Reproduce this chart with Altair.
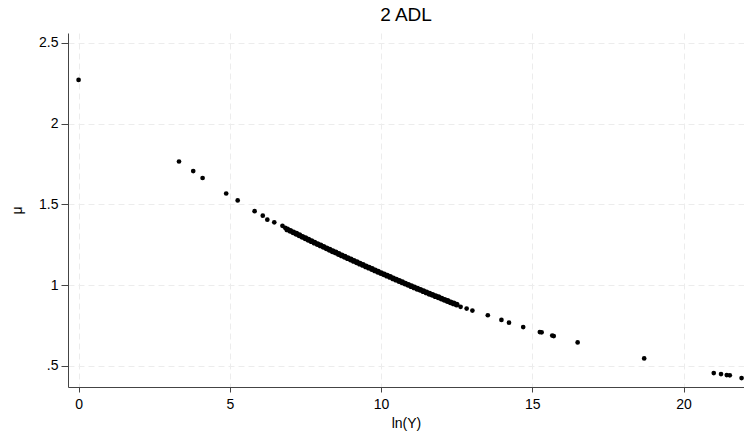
import altair as alt
import pandas as pd

# Sparse points
sparse_x = [0.0, 3.32, 3.79, 4.10, 4.88, 5.26, 5.82, 6.09, 6.24, 6.47, 6.74, 6.83,
            12.63, 12.83, 13.02, 13.53, 13.98, 14.23, 14.70, 15.25, 15.31, 15.66, 15.71,
            16.50, 18.70, 21.00, 21.24, 21.43, 21.53, 21.92]
sparse_y = [2.270, 1.765, 1.706, 1.663, 1.567, 1.524, 1.458, 1.430, 1.405, 1.389, 1.367, 1.355,
            0.866, 0.855, 0.843, 0.814, 0.785, 0.768, 0.741, 0.710, 0.708, 0.688, 0.685,
            0.646, 0.547, 0.456, 0.450, 0.444, 0.442, 0.425]

# Dense band
dense_x = [6.9, 7.0, 7.1, 7.2, 7.3, 7.4, 7.5, 7.6, 7.7, 7.8, 7.9,
           8.0, 8.1, 8.2, 8.3, 8.4, 8.5, 8.6, 8.7, 8.8, 8.9,
           9.0, 9.1, 9.2, 9.3, 9.4, 9.5, 9.6, 9.7, 9.8, 9.9,
           10.0, 10.1, 10.2, 10.3, 10.4, 10.5, 10.6, 10.7, 10.8, 10.9,
           11.0, 11.1, 11.2, 11.3, 11.4, 11.5, 11.6, 11.7, 11.8, 11.9,
           12.0, 12.1, 12.2, 12.3, 12.4, 12.5]
dense_y = [1.345, 1.336, 1.327, 1.318, 1.309, 1.299, 1.290, 1.281, 1.272, 1.263, 1.254,
           1.246, 1.237, 1.228, 1.219, 1.210, 1.202, 1.193, 1.184, 1.176, 1.167,
           1.159, 1.150, 1.142, 1.133, 1.125, 1.116, 1.108, 1.100, 1.091, 1.083,
           1.075, 1.067, 1.059, 1.051, 1.042, 1.034, 1.026, 1.018, 1.010, 1.002,
           0.994, 0.986, 0.978, 0.971, 0.963, 0.955, 0.947, 0.940, 0.932, 0.925,
           0.917, 0.909, 0.902, 0.894, 0.887, 0.880]

x_ticks = [0, 5, 10, 15, 20]
y_ticks = [0.5, 1, 1.5, 2, 2.5]

df_sparse = pd.DataFrame({"lnY": sparse_x, "mu": sparse_y})
df_dense = pd.DataFrame({"lnY": dense_x, "mu": dense_y})

font = "Liberation Sans"

x_enc = alt.X("lnY:Q", title="ln(Y)",
              scale=alt.Scale(domain=[-0.35, 22.0], nice=False, zero=False),
              axis=alt.Axis(values=x_ticks, format="~g", tickSize=5, labelPadding=5,
                            titlePadding=5, gridDash=[6, 4], titleFontWeight="normal"))
y_enc = alt.Y("mu:Q", title="μ",
              scale=alt.Scale(domain=[0.37, 2.56], nice=False, zero=False),
              axis=alt.Axis(values=y_ticks, format="~g", tickSize=7, labelPadding=3,
                            labelExpr="datum.value == 0.5 ? '.5' : datum.label",
                            titlePadding=14, gridDash=[6, 4], titleFontWeight="normal"))

sparse = alt.Chart(df_sparse).mark_circle(size=22, color="black", opacity=1).encode(x=x_enc, y=y_enc)
dense = alt.Chart(df_dense).mark_circle(size=34, color="black", opacity=1).encode(x=x_enc, y=y_enc)

chart = alt.layer(sparse, dense).properties(
    width=676, height=354,
    background="white",
    title=alt.TitleParams("2 ADL", fontSize=19, font=font, fontWeight="normal",
                          color="black", offset=8),
    padding={"left": 68, "top": 33, "right": 0, "bottom": 55},
    autosize=alt.AutoSizeParams(type="none"),
).configure_view(stroke=None).configure_axis(
    labelFont=font, titleFont=font, labelFontSize=14, titleFontSize=14,
    labelColor="black", titleColor="black", titleFontWeight="normal",
    domainColor="#444444", tickColor="#444444", gridColor="#ececec",
    grid=True
)

chart.save("out.html", embed_options={"renderer": "svg", "actions": False})
